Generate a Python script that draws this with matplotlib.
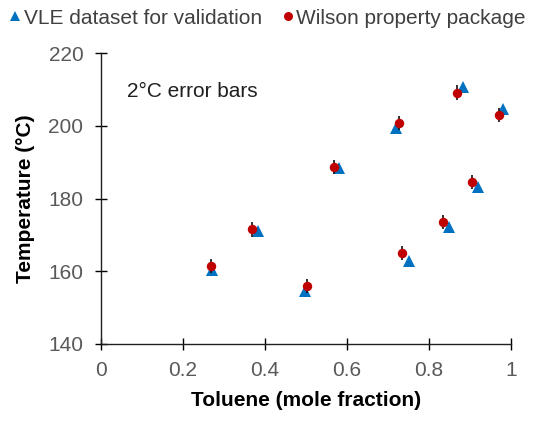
import matplotlib
matplotlib.use("Agg")
import matplotlib.pyplot as plt
from matplotlib.lines import Line2D

plt.rcParams['font.family'] = ['Liberation Sans', 'DejaVu Sans']

# VLE dataset for validation (triangles)
vle_x = [0.271, 0.383, 0.498, 0.580, 0.720, 0.751, 0.849, 0.883, 0.920, 0.980]
vle_T = [160.3, 171.2, 154.5, 188.4, 199.4, 162.8, 172.2, 210.7, 183.3, 204.6]

# Wilson property package (circles)
wil_x = [0.268, 0.368, 0.502, 0.568, 0.727, 0.734, 0.834, 0.868, 0.905, 0.971]
wil_T = [161.5, 171.5, 155.9, 188.7, 200.8, 165.0, 173.5, 209.1, 184.5, 203.0]
err = 2.0

xticks = [0, 0.2, 0.4, 0.6, 0.8, 1]
xticklabels = ['0', '0.2', '0.4', '0.6', '0.8', '1']
yticks = [140, 160, 180, 200, 220]

blue = '#0070C0'
red = '#C00000'

fig = plt.figure(figsize=(5.36, 4.21), dpi=100)
ax = fig.add_axes([0.188, 0.183, 0.765, 0.691])

ax.plot(vle_x, vle_T, linestyle='none', marker='^', markersize=9,
        color=blue, markeredgewidth=0, zorder=2)
ax.errorbar(wil_x, wil_T, yerr=err, fmt='o', markersize=6.8, color=red,
            markeredgewidth=0, ecolor='#111111', elinewidth=1.2, capsize=4.2,
            capthick=1.5, zorder=3)

ax.set_xlim(0, 1)
ax.set_ylim(140, 220)
ax.set_xticks(xticks)
ax.set_xticklabels(xticklabels)
ax.set_yticks(yticks)
ax.tick_params(direction='inout', length=9, width=1, labelsize=15,
               labelcolor='#595959', pad=8)
for s in ['top', 'right']:
    ax.spines[s].set_visible(False)
for s in ['left', 'bottom']:
    ax.spines[s].set_linewidth(1.0)
    ax.spines[s].set_color('#202020')

ax.set_xlabel('Toluene (mole fraction)', fontsize=15, fontweight='bold',
              labelpad=8, color='#000000')
ax.set_ylabel('Temperature (°C)', fontsize=15, fontweight='bold',
              labelpad=10, color='#000000')

ax.text(0.063, 209.3, '2°C error bars', fontsize=15, color='#202020',
        va='center', ha='left')

handles = [
    Line2D([], [], linestyle='none', marker='^', markersize=6.5,
           color=blue, markeredgewidth=0),
    Line2D([], [], linestyle='none', marker='o', markersize=6.5,
           color=red, markeredgewidth=0),
]
fig.legend(handles, ['VLE dataset for validation', 'Wilson property package'],
           loc='center', bbox_to_anchor=(0.5, 0.957), ncol=2, frameon=False,
           fontsize=15, handlelength=0.5, handletextpad=0.15,
           columnspacing=1.0, labelcolor='#404040')

fig.savefig('out.png', dpi=100)
